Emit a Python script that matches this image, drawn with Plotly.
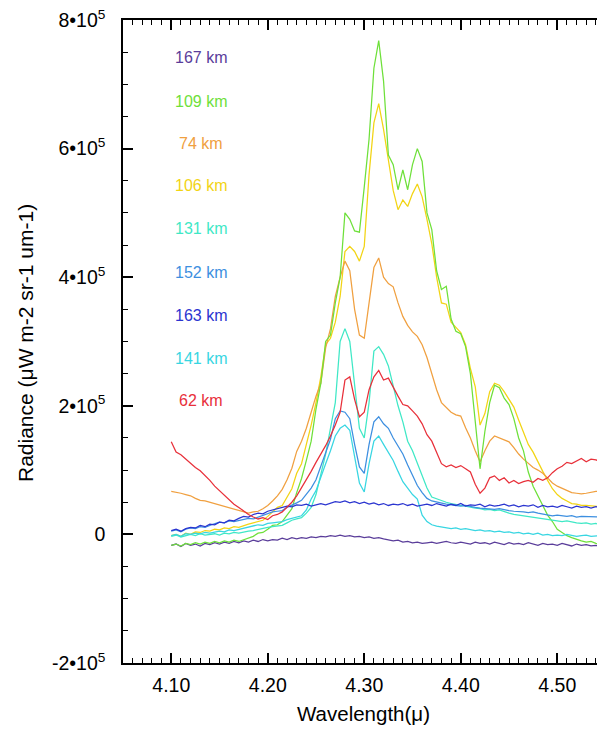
import plotly.graph_objects as go

# Wavelength grid (microns), 4.100 .. 4.545 step 0.005
wavelength = [round(4.100 + 0.005 * i, 3) for i in range(90)]

# Radiance values in units of 1e3 (uW m-2 sr-1 um-1)
r167 = [-17, -15, -19, -14, -17, -15, -18, -14, -16, -13, -15, -12, -14, -11, -13, -10, -12, -9, -11, -8,
        -10, -8, -9, -6, -8, -5, -7, -5, -6, -4, -5, -3, -4, -2, -3, -1, -3, -2, -4, -3,
        -5, -4, -6, -5, -7, -8, -10, -9, -12, -11, -13, -12, -14, -13, -12, -14, -13, -11, -13, -14,
        -12, -13, -15, -12, -14, -13, -15, -12, -14, -16, -13, -15, -14, -16, -13, -15, -17, -14, -16, -15,
        -17, -14, -16, -18, -15, -17, -16, -18, -17, -19]
r109 = [-17, -15, -18, -14, -16, -13, -15, -12, -14, -11, -13, -10, -12, -9, -11, -8, -6, -3, 2, 3,
        8, 14, 15, 20, 30, 40, 65, 87, 115, 145, 195, 235, 300, 310, 360, 400, 500, 490, 472, 470,
        540, 615, 725, 768, 705, 590, 575, 536, 567, 536, 575, 600, 580, 500, 474, 410, 381, 386, 335, 316,
        312, 292, 250, 180, 102, 160, 205, 232, 228, 212, 202, 180, 150, 130, 97, 75, 60, 45, 30, 20,
        8, 3, -2, -5, -8, -10, -12, -11, -14, -15]
r74 = [67, 66, 64, 62, 60, 56, 53, 52, 50, 48, 46, 43, 41, 40, 37, 35, 33, 35, 36, 40,
       45, 52, 60, 70, 85, 103, 129, 145, 165, 190, 215, 235, 290, 320, 370, 400, 425, 410, 350, 310,
       305, 360, 415, 430, 400, 390, 385, 360, 339, 325, 315, 308, 295, 275, 250, 225, 205, 198, 190, 186,
       184, 166, 150, 130, 113, 130, 145, 153, 150, 146, 144, 135, 125, 117, 110, 104, 100, 95, 88, 80,
       75, 72, 68, 65, 64, 63, 64, 66, 67, 66]
r106 = [-2, 0, -3, 2, 0, 4, 3, 6, 5, 8, 7, 10, 9, 12, 11, 14, 16, 18, 20, 22,
        28, 35, 42, 45, 58, 71, 95, 110, 140, 170, 205, 245, 295, 305, 330, 370, 440, 448, 440, 425,
        448, 560, 640, 670, 630, 583, 535, 505, 520, 510, 530, 545, 525, 490, 452, 400, 360, 358, 330, 322,
        314, 295, 258, 230, 170, 188, 222, 235, 232, 222, 210, 198, 178, 158, 140, 128, 112, 98, 84, 71,
        62, 56, 52, 48, 47, 45, 45, 44, 43, 43]
r131 = [-3, -1, -4, -2, 0, -2, 1, -1, 0, 1, -1, 2, 1, 3, 2, 4, 5, 6, 8, 9,
        11, 12, 13, 14, 18, 22, 24, 26, 33, 42, 62, 95, 125, 165, 205, 300, 320, 300, 235, 165,
        150, 205, 285, 292, 280, 262, 231, 200, 175, 145, 130, 110, 90, 72, 58, 55, 52, 50, 48, 46,
        45, 44, 42, 41, 40, 38, 39, 37, 38, 35, 33, 31, 30, 28, 28, 27, 26, 24, 23, 22,
        21, 20, 21, 19, 18, 17, 18, 16, 17, 15]
r152 = [5, 7, 4, 8, 10, 9, 12, 11, 14, 16, 19, 18, 21, 20, 22, 23, 25, 24, 27, 30,
        32, 35, 36, 37, 42, 45, 49, 53, 62, 72, 85, 105, 125, 148, 180, 192, 190, 180, 140, 105,
        95, 140, 175, 183, 172, 165, 150, 138, 125, 108, 92, 76, 65, 56, 52, 50, 48, 47, 46, 45,
        44, 45, 43, 42, 41, 40, 40, 39, 40, 38, 37, 36, 36, 35, 34, 35, 33, 32, 30, 29,
        30, 29, 28, 29, 27, 28, 28, 27, 28, 27]
r163 = [6, 8, 5, 9, 11, 10, 14, 12, 16, 15, 19, 18, 22, 21, 25, 28, 27, 31, 33, 32,
        36, 38, 40, 41, 44, 43, 46, 45, 47, 44, 46, 48, 46, 49, 51, 50, 52, 49, 51, 48,
        50, 47, 49, 46, 48, 45, 47, 46, 48, 45, 47, 44, 46, 47, 45, 48, 46, 44, 47, 45,
        48, 44, 46, 45, 47, 43, 46, 44, 45, 47, 44, 46, 43, 45, 44, 46, 42, 45, 43, 44,
        42, 45, 43, 41, 44, 42, 43, 41, 43, 42]
r141 = [-2, 0, -3, 1, 0, 2, 1, 3, 2, 4, 5, 4, 7, 6, 8, 9, 12, 13, 15, 14,
        17, 18, 19, 20, 23, 25, 27, 29, 38, 55, 68, 90, 110, 130, 153, 165, 170, 162, 120, 80,
        66, 110, 145, 153, 140, 128, 115, 98, 82, 72, 62, 55, 30, 20, 15, 13, 12, 10, 9, 10,
        8, 9, 7, 6, 7, 5, 6, 4, 5, 3, 4, 2, 3, 1, 2, 0, 2, -1, 0, -2,
        -1, -2, 0, -1, -3, -2, -1, -3, -2, -2]
r62 = [144, 128, 124, 117, 110, 104, 99, 92, 84, 75, 68, 60, 54, 47, 42, 36, 31, 27, 24, 26,
       23, 29, 31, 35, 42, 50, 60, 72, 85, 98, 112, 124, 138, 153, 170, 190, 240, 245, 210, 183,
       190, 225, 245, 255, 240, 243, 228, 215, 202, 200, 192, 184, 172, 155, 145, 128, 110, 105, 108, 104,
       107, 102, 97, 78, 64, 72, 88, 91, 84, 88, 80, 84, 79, 82, 84, 81, 87, 84, 88, 96,
       102, 106, 112, 110, 114, 118, 113, 117, 116, 113]

series_labels = ["167 km", "109 km", "74 km", "106 km", "131 km", "152 km", "163 km", "141 km", "62 km"]
series_colors = ["#5a3d9a", "#6ee03a", "#f0a040", "#f2d414", "#3fe8c6", "#3d8fe0", "#2b35d0", "#38d6e2", "#e8303a"]
series_values = [r167, r109, r74, r106, r131, r152, r163, r141, r62]
draw_order = [0, 3, 2, 1, 4, 5, 7, 6, 8]

y_tickvals = [-2e5, 0, 2e5, 4e5, 6e5, 8e5]
y_ticktext = ["-2•10<sup>5</sup>", "0", "2•10<sup>5</sup>", "4•10<sup>5</sup>", "6•10<sup>5</sup>", "8•10<sup>5</sup>"]
x_tickvals = [4.1, 4.2, 4.3, 4.4, 4.5]
x_ticktext = ["4.10", "4.20", "4.30", "4.40", "4.50"]

FONT = "Liberation Sans, Arial, Helvetica, sans-serif"

fig = go.Figure()
for i in draw_order:
    fig.add_trace(go.Scatter(
        x=wavelength, y=[v * 1000 for v in series_values[i]], mode="lines",
        line=dict(color=series_colors[i], width=1.25), name=series_labels[i],
        showlegend=False, hoverinfo="skip"))

# In-plot labels (pixel positions of the label column)
label_px = [58, 101, 143, 186, 229, 272, 315, 358, 400]
label_x = [173, 173, 177, 173, 173, 173, 173, 173, 177]
for lab, col, py, px in zip(series_labels, series_colors, label_px, label_x):
    fig.add_annotation(text=lab, x=(px - 123) / 474, y=1 - (py - 20) / 643,
                       xref="paper", yref="paper", xanchor="left", yanchor="middle",
                       showarrow=False, font=dict(family=FONT, size=16, color=col))

fig.add_annotation(text="Wavelength(μ)", x=(363.5 - 123) / 474, y=1 - (713 - 20) / 643,
                   xref="paper", yref="paper", xanchor="center", yanchor="middle",
                   showarrow=False, font=dict(family=FONT, size=20.5, color="black"))
fig.add_annotation(text="Radiance (μW m-2 sr-1 um-1)", x=(25 - 123) / 474, y=1 - (343 - 20) / 643,
                   xref="paper", yref="paper", xanchor="center", yanchor="middle", textangle=-90,
                   showarrow=False, font=dict(family=FONT, size=21, color="black"))

fig.update_layout(
    width=597, height=729,
    margin=dict(l=123, r=0, t=20, b=66),
    paper_bgcolor="white", plot_bgcolor="white",
    font=dict(family=FONT, color="black"),
    xaxis=dict(range=[4.05, 4.05 + 474 / 965], showgrid=False, zeroline=False,
               showline=True, linecolor="black", linewidth=1.5, mirror="ticks",
               ticks="inside", ticklen=10, tickwidth=1.5, tickcolor="black",
               tickvals=x_tickvals, ticktext=x_ticktext, tickfont=dict(size=19.5),
               ticklabelstandoff=4,
               minor=dict(dtick=0.01, tick0=4.0, ticks="inside", ticklen=5, tickwidth=1.2, tickcolor="black")),
    yaxis=dict(range=[-2e5, 8e5], showgrid=False, zeroline=False,
               showline=True, linecolor="black", linewidth=1.5,
               ticks="inside", ticklen=10, tickwidth=1.5, tickcolor="black",
               tickvals=y_tickvals, ticktext=y_ticktext, tickfont=dict(size=19.5),
               ticklabelstandoff=12,
               minor=dict(dtick=5e4, tick0=0, ticks="inside", ticklen=5, tickwidth=1.2, tickcolor="black")),
)

fig.write_html("out.html")
